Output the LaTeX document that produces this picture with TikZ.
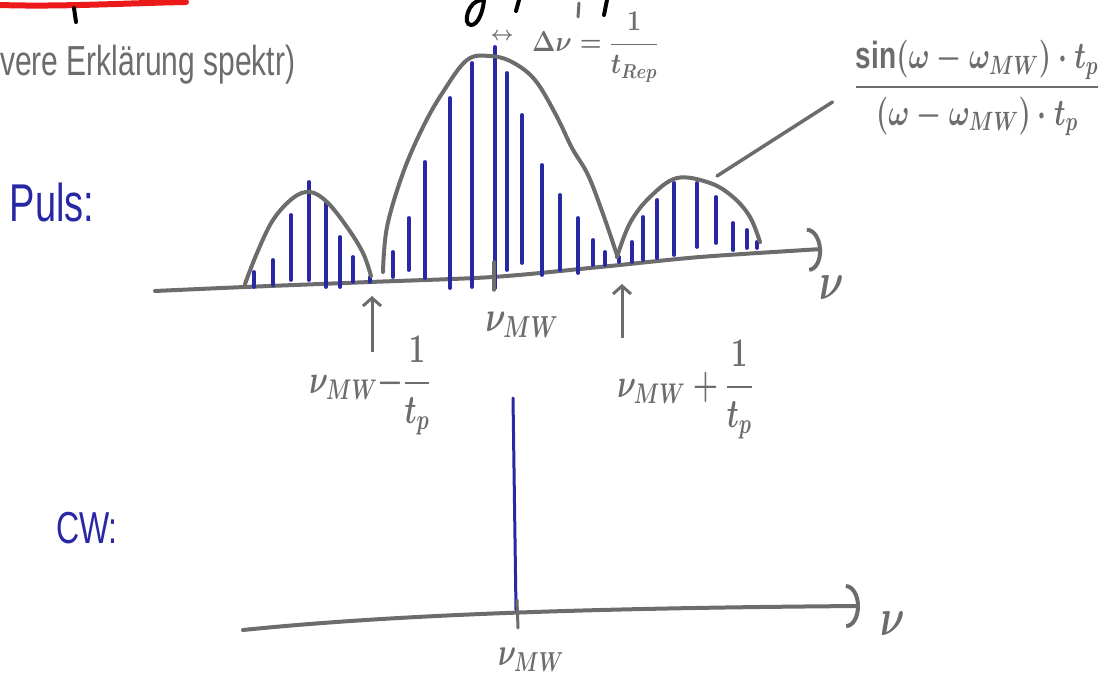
\RequirePackage{fix-cm}
\documentclass[tikz,border=0pt]{standalone}
\usepackage{amsmath}
\usepackage{fontspec}
\setmainfont{Liberation Sans}
\usepackage{graphicx}
\usepackage{xcolor}
\usetikzlibrary{arrows.meta}

\definecolor{handgray}{RGB}{108,108,108}
\definecolor{penblue}{RGB}{40,40,165}
\definecolor{penred}{RGB}{235,25,25}
\newcommand{\tall}[1]{\scalebox{1}[1.4]{#1}}

\tikzset{
  curve/.style={draw=handgray, line width=4pt, line cap=round, line join=round},
  freqaxis/.style={curve, -{Arc Barb[length=14pt,width=44pt]}},
  comb/.style={draw=penblue, line width=3.8pt, line cap=round},
  pointer/.style={draw=handgray, line width=3pt, -{Straight Barb[length=8pt,width=18pt]}},
  hand/.style={text=handgray, inner sep=0pt},
  mathhand/.style={hand, font=\fontsize{#1}{#1}\selectfont\boldmath},
  penlabel/.style={text=penblue, inner sep=0pt},
  inkstroke/.style={line width=4pt, line cap=round}
}

\begin{document}
\begin{tikzpicture}[x=1pt, y=-1pt]
    \useasboundingbox (0,0) rectangle (1107,684);

    % cut off heading
    \draw[inkstroke, penred, line width=6pt] (0,5) .. controls (60,7) and (130,3) .. (186,2);
    \draw[inkstroke, black] (74,8) -- (76,22);
    \draw[inkstroke, black] (482,0) .. controls (468,0) and (462,25) .. (471,25) .. controls (478,25) and (483,12) .. (484,0);
    \draw[inkstroke, black] (519,0) -- (516,11);
    \draw[inkstroke, handgray, line width=3pt] (579,3) -- (578,17);
    \draw[inkstroke, black] (607,0) -- (604,15);
    \node[hand, font=\fontsize{30}{34}\selectfont, anchor=base west] (note) at (0,76) {\tall{vere Erklärung spektr)}};

    % pulse spectrum
    \node[penlabel, font=\fontsize{38}{40}\selectfont] (puls) at (52,202) {\tall{Puls:}};
    \draw[freqaxis] plot[smooth] coordinates {(155,291) (245,287) (370,282) (493,277) (600,267) (700,257) (822,249)};
    \foreach \xx/\ya/\yb in {254/272/287, 273/260/285, 291/215/280, 309/182/280, 326/203/287, 340/237/287,
        353/257/282, 370/277/282, 393/252/277, 409/218/270, 425/162/278, 450/98/288, 472/63/287,
        495/47/288, 507/73/270, 522/115/263, 542/165/275, 560/195/270, 578/218/273, 593/240/265,
        605/252/265, 619/257/262, 632/242/262, 643/217/260, 657/200/258, 674/183/255, 697/183/247,
        716/197/243, 733/223/250, 747/230/248, 757/242/248}
        \draw[comb] (\xx,\ya) -- (\xx,\yb);
    \draw[curve, line width=3.5pt] (494,262) -- (494,290);
    \draw[curve] plot[smooth, tension=0.6] coordinates {(245,284) (257,253) (273,220) (293,198) (310,192) (327,202) (347,227) (363,253) (371,276)};
    \draw[curve] plot[smooth, tension=0.6] coordinates {(383,272) (387,227) (403,173) (423,127) (443,92) (467,60) (490,56) (512,62) (535,80) (556,115) (572,148) (588,175) (603,214) (617,255)};
    \draw[curve] plot[smooth, tension=0.6] coordinates {(617,257) (630,223) (650,197) (677,178) (710,183) (733,197) (750,217) (760,242)};

    \node[mathhand=38] (nu1) at (832,288) {\tall{$\nu$}};
    \node[mathhand=20] (spacing) at (502,37) {$\leftrightarrow$};
    \node[mathhand=25, anchor=base west] (drep) at (532,52) {\scalebox{1}[1.15]{$\Delta\nu=\dfrac{1}{t_{Rep}}$}};

    \coordinate (envtop) at (717,176);
    \node[mathhand=28] (sinc) at (977,88) {\scalebox{1}[1.35]{$\dfrac{\sin(\omega-\omega_{MW})\cdot t_p}{(\omega-\omega_{MW})\cdot t_p}$}};
    \draw[curve, line width=3.5pt, shorten >=26pt] (envtop) -- (sinc.west);

    \node[mathhand=31] (numw) at (522,325) {\tall{$\nu_{MW}$}};
    \node[mathhand=29] (lowedge) at (370,386) {\tall{$\nu_{MW}{-}\dfrac{1}{t_p}$}};
    \node[mathhand=29] (highedge) at (685,390) {\tall{$\nu_{MW}+\dfrac{1}{t_p}$}};
    \coordinate (lowtip) at (372,296);
    \coordinate (hightip) at (622,284);
    \draw[pointer] ([yshift=-16pt]lowtip |- lowedge.north) -- (lowtip);
    \draw[pointer] ([yshift=2pt]hightip |- highedge.north) -- (hightip);

    % cw spectrum
    \node[penlabel, font=\fontsize{32}{36}\selectfont] (cw) at (87,528) {\tall{CW:}};
    \coordinate (cwleft) at (243,630);
    \coordinate (cwright) at (860,606);
    \draw[freqaxis] (cwleft) .. controls (400,614) and (600,608) .. (cwright);
    \coordinate (cwtop) at (513,398);
    \coordinate (cwfoot) at (516,610);
    \draw[comb, line width=3pt] (cwtop) -- (cwfoot);
    \draw[curve, line width=3pt] (517,600) -- (518,628);
    \node[mathhand=38] (nu2) at (893,624) {\tall{$\nu$}};
    \node[mathhand=28] (cwmw) at (531,660) {\tall{$\nu_{MW}$}};
\end{tikzpicture}
\end{document}
